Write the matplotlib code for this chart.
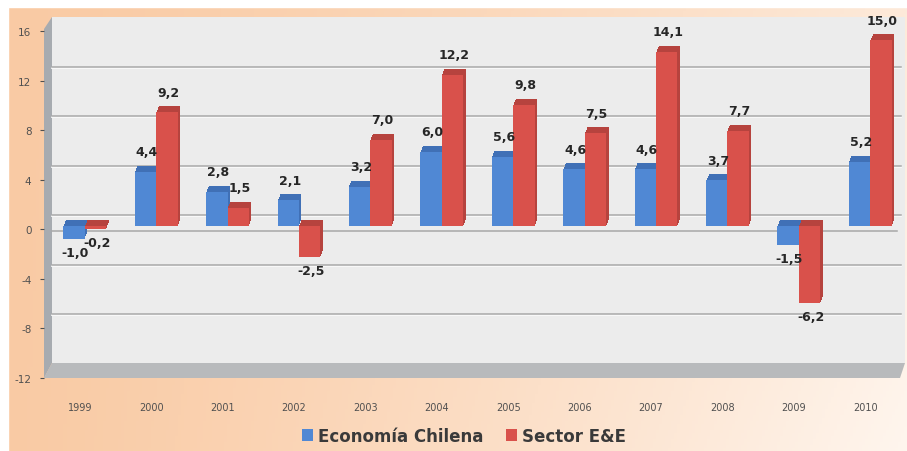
import matplotlib
matplotlib.use('Agg')
import matplotlib.pyplot as plt
import matplotlib.transforms as mtransforms
from matplotlib.patches import Polygon, Rectangle, Patch
import numpy as np

years = ['1999', '2000', '2001', '2002', '2003', '2004',
         '2005', '2006', '2007', '2008', '2009', '2010']
economia = [-1.0, 4.4, 2.8, 2.1, 3.2, 6.0, 5.6, 4.6, 4.6, 3.7, -1.5, 5.2]
sector = [-0.2, 9.2, 1.5, -2.5, 7.0, 12.2, 9.8, 7.5, 14.1, 7.7, -6.2, 15.0]
y_ticks = [-12, -8, -4, 0, 4, 8, 12, 16]

W, H = 907, 452
BLUE, BLUE_DARK = '#5088d4', '#4070b6'
RED, RED_DARK = '#d9514b', '#b6433e'


def px(x, y):
    # pixel position (top-left origin) -> figure fraction
    return (x / W, 1 - y / H)


def shifted(trans, dx, dy):
    # offset a transform by a number of pixels (dpi 100)
    return trans + mtransforms.ScaledTranslation(dx / 100, dy / 100, fig.dpi_scale_trans)


fig = plt.figure(figsize=(W / 100, H / 100), dpi=100)

# peach gradient background
bg = fig.add_axes([0, 0, 1, 1], zorder=-10)
gx, gy = np.meshgrid(np.linspace(0, 1, 300), np.linspace(0, 1, 150))
peach = np.array([249, 200, 160]) / 255
white = np.array([255, 248, 242]) / 255
a = np.clip(0.05 + 0.75 * gx ** 1.3 + 0.15 * gx * gy - 0.1 * (1 - gy) * gx, 0, 1)
img = peach * (1 - a[..., None]) + white * a[..., None]
bg.imshow(img, extent=[0, 1, 0, 1], aspect='auto', origin='upper')
bg.add_patch(Rectangle((0, 0), 8 / W, 1, color='white', transform=bg.transAxes))
bg.add_patch(Rectangle((0, 1 - 8 / H), 1, 8 / H, color='white', transform=bg.transAxes))
bg.set_axis_off()

# 3D chart frame: back wall, side wall, floor
fig.patches.append(Polygon([px(52, 18), px(905, 18), px(905, 364), px(52, 364)],
                           closed=True, transform=fig.transFigure,
                           facecolor='#ececec', edgecolor='none', zorder=-5))
fig.patches.append(Polygon([px(44, 30), px(52, 18), px(52, 364), px(44, 379)],
                           closed=True, transform=fig.transFigure,
                           facecolor='#a7abb0', edgecolor='none', zorder=-5))
fig.patches.append(Polygon([px(52, 364), px(905, 364), px(900, 379), px(44, 379)],
                           closed=True, transform=fig.transFigure,
                           facecolor='#b8babc', edgecolor='none', zorder=-5))

ax = fig.add_axes([44 / W, 1 - 379 / H, 857 / W, 347 / H])
ax.set_facecolor('none')
for sp in ax.spines.values():
    sp.set_visible(False)

x = np.arange(len(years))
ax.set_xlim(-0.5, len(years) - 0.5)
ax.set_ylim(-12, 16)

# gridlines sit on the back wall, a bit above the front values
wall = mtransforms.blended_transform_factory(ax.transAxes, ax.transData)
for v in y_ticks[1:-1]:
    ax.plot([8 / 857, 1], [v, v], transform=shifted(wall, 0, 13), color='#fafafa',
            lw=1.3, zorder=1, clip_on=False)
    ax.plot([8 / 857, 1], [v, v], transform=shifted(wall, 0, 14),
            color='#a9a9a9', lw=1.1, zorder=1, clip_on=False)

# category axis line at zero, in front of the wall
ax.plot([8 / 857, 0.995], [0, 0], transform=shifted(wall, 0, -2),
        color='#a8a8a8', lw=1.1, zorder=2, clip_on=False)

bw = 0.3
off = 0.07
depth = 5
for vals, shift, c, cd in [(economia, -0.15, BLUE, BLUE_DARK),
                           (sector, 0.15, RED, RED_DARK)]:
    xs = x + shift + off
    # extruded depth of the column, back to front, then the front face
    for k in range(depth, 0, -1):
        ax.bar(xs, vals, bw, color=cd, edgecolor='none', zorder=3,
               transform=shifted(ax.transData, 0.5 * k, 3 + 1.2 * k))
    ax.bar(xs, vals, bw, color=c, edgecolor='none', zorder=4,
           transform=shifted(ax.transData, 0, 3))
    for xi, v in zip(xs, vals):
        lab = f'{v:.1f}'.replace('.', ',')
        if v >= 0:
            ax.annotate(lab, (xi, v), xytext=(1, 12), textcoords='offset points',
                        ha='center', va='bottom', fontsize=9, fontweight='bold',
                        color='#262626', zorder=5)
        else:
            ax.annotate(lab, (xi, v), xytext=(1, -3), textcoords='offset points',
                        ha='center', va='top', fontsize=9, fontweight='bold',
                        color='#262626', zorder=5)

ax.set_yticks(y_ticks)
ax.set_yticklabels([str(t) for t in y_ticks])
ax.set_xticks(x)
ax.set_xticklabels(years)
ax.tick_params(axis='y', length=3, pad=6, labelsize=7.5, colors='#505050')
ax.tick_params(axis='x', length=0, pad=17, labelsize=7, labelcolor='#505050')

handles = [Patch(facecolor=BLUE, edgecolor='none', label='Economía Chilena'),
           Patch(facecolor=RED, edgecolor='none', label='Sector E&E')]
leg = fig.legend(handles=handles, loc='center', bbox_to_anchor=px(464, 437),
                 ncol=2, frameon=False, handlelength=0.7, handleheight=0.7,
                 handletextpad=0.3, columnspacing=1.3,
                 prop={'size': 12, 'weight': 'bold'})
for t in leg.get_texts():
    t.set_color('#3a3a3a')

fig.savefig('out.png', dpi=100)
